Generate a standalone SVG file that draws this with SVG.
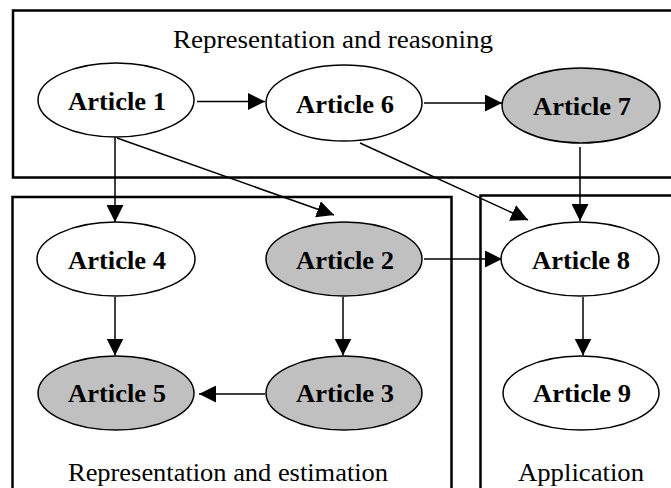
<svg xmlns="http://www.w3.org/2000/svg" width="671" height="488" viewBox="0 0 671 488">
  <style>
    .box { fill: none; stroke: #000; stroke-width: 2.5; }
    .node { stroke: #000; stroke-width: 1.5; }
    .plain { fill: #fff; }
    .shaded { fill: #c0c0c0; }
    .edge { stroke: #000; stroke-width: 1.5; fill: none; marker-end: url(#arrow); }
  </style>
  <defs>
    <marker id="arrow" markerUnits="userSpaceOnUse" markerWidth="17" markerHeight="17" refX="17" refY="8.5" orient="auto">
      <path d="M0,0 L17,8.5 L0,17 z" fill="#000"/>
    </marker>
  </defs>

  <rect width="671" height="488" fill="#fff"/>

  <!-- group frames -->
  <g id="groups">
    <rect class="box" x="13" y="10.5" width="680" height="167"/>
    <rect class="box" x="12.5" y="197" width="439" height="320"/>
    <rect class="box" x="480.5" y="195.5" width="220" height="320"/>
    <g font-family="Liberation Serif, Tinos, Nimbus Roman, Times New Roman, Times, serif" font-size="25" text-anchor="middle" fill="#000">
      <text x="333" y="48" textLength="320" lengthAdjust="spacingAndGlyphs">Representation and reasoning</text>
      <text x="228" y="481" textLength="320" lengthAdjust="spacingAndGlyphs">Representation and estimation</text>
      <text x="581" y="481" textLength="126" lengthAdjust="spacingAndGlyphs">Application</text>
    </g>
  </g>

  <!-- connectors -->
  <g id="connectors">
    <line class="edge" x1="197" y1="101.5" x2="265" y2="101.5"/>
    <line class="edge" x1="424" y1="103" x2="502" y2="103"/>
    <line class="edge" x1="115" y1="137" x2="115" y2="222"/>
    <line class="edge" x1="117" y1="138" x2="334" y2="215"/>
    <line class="edge" x1="360" y1="143" x2="528" y2="220"/>
    <line class="edge" x1="580" y1="147" x2="580" y2="221"/>
    <line class="edge" x1="424" y1="259" x2="502" y2="259"/>
    <line class="edge" x1="115" y1="297" x2="115" y2="355.5"/>
    <line class="edge" x1="343" y1="297" x2="343" y2="355.5"/>
    <line class="edge" x1="583" y1="297" x2="583" y2="355.5"/>
    <line class="edge" x1="265" y1="394" x2="199" y2="394"/>
  </g>

  <!-- article nodes -->
  <g font-family="Liberation Serif, Tinos, Nimbus Roman, Times New Roman, Times, serif" font-weight="bold" font-size="26" text-anchor="middle" fill="#000">
    <g id="article1">
      <ellipse class="node plain" cx="116" cy="100" rx="78" ry="37"/>
      <text x="117" y="109.5" textLength="98" lengthAdjust="spacingAndGlyphs">Article 1</text>
    </g>
    <g id="article6">
      <ellipse class="node plain" cx="344" cy="103" rx="78" ry="38"/>
      <text x="345" y="112.5" textLength="98" lengthAdjust="spacingAndGlyphs">Article 6</text>
    </g>
    <g id="article7">
      <ellipse class="node shaded" cx="581" cy="105.5" rx="79" ry="37.5"/>
      <text x="582" y="115" textLength="98" lengthAdjust="spacingAndGlyphs">Article 7</text>
    </g>
    <g id="article4">
      <ellipse class="node plain" cx="116" cy="259" rx="79" ry="37"/>
      <text x="117" y="268.5" textLength="98" lengthAdjust="spacingAndGlyphs">Article 4</text>
    </g>
    <g id="article2">
      <ellipse class="node shaded" cx="344" cy="259" rx="78" ry="37"/>
      <text x="345" y="268.5" textLength="98" lengthAdjust="spacingAndGlyphs">Article 2</text>
    </g>
    <g id="article8">
      <ellipse class="node plain" cx="580" cy="259" rx="79" ry="37"/>
      <text x="581" y="268.5" textLength="98" lengthAdjust="spacingAndGlyphs">Article 8</text>
    </g>
    <g id="article5">
      <ellipse class="node shaded" cx="116" cy="393" rx="78" ry="37"/>
      <text x="117" y="402" textLength="98" lengthAdjust="spacingAndGlyphs">Article 5</text>
    </g>
    <g id="article3">
      <ellipse class="node shaded" cx="344" cy="393" rx="78" ry="37"/>
      <text x="345" y="402" textLength="98" lengthAdjust="spacingAndGlyphs">Article 3</text>
    </g>
    <g id="article9">
      <ellipse class="node plain" cx="581" cy="393" rx="78" ry="37"/>
      <text x="582" y="402" textLength="98" lengthAdjust="spacingAndGlyphs">Article 9</text>
    </g>
  </g>
</svg>
